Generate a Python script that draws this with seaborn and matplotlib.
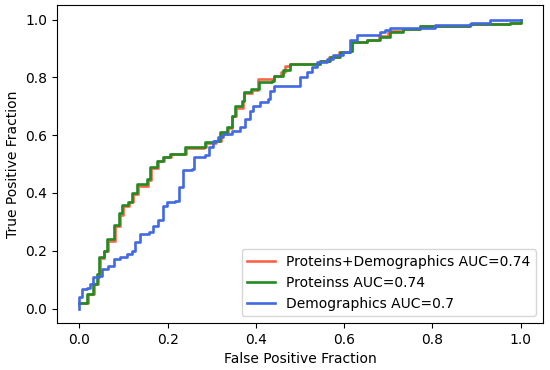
import matplotlib
matplotlib.use("Agg")
import matplotlib.pyplot as plt
import seaborn as sns

# ROC points
both_fpr = [0.0, 0.019, 0.034, 0.042, 0.046, 0.057, 0.065, 0.08, 0.092, 0.099, 0.112, 0.122, 0.132,
            0.155, 0.162, 0.178, 0.192, 0.208, 0.242, 0.283, 0.287, 0.31, 0.321, 0.336, 0.347,
            0.355, 0.37, 0.374, 0.392, 0.404, 0.43, 0.44, 0.456, 0.466, 0.477, 0.538, 0.545, 0.566,
            0.589, 0.613, 0.617, 0.647, 0.651, 0.68, 0.70, 0.733, 0.772, 0.885, 0.975, 1.0]
both_tpr = [0.02, 0.05, 0.085, 0.12, 0.175, 0.20, 0.235, 0.285, 0.325, 0.355, 0.37, 0.395, 0.425,
            0.445, 0.485, 0.51, 0.524, 0.536, 0.556, 0.558, 0.574, 0.58, 0.605, 0.625, 0.665,
            0.695, 0.718, 0.747, 0.758, 0.795, 0.795, 0.806, 0.82, 0.84, 0.847, 0.847, 0.858, 0.872,
            0.888, 0.893, 0.922, 0.922, 0.93, 0.945, 0.96, 0.969, 0.979, 0.985, 0.99, 1.0]

prot_fpr = [0.0, 0.017, 0.032, 0.04, 0.044, 0.055, 0.063, 0.078, 0.09, 0.097, 0.11, 0.12, 0.13,
            0.153, 0.16, 0.176, 0.19, 0.206, 0.24, 0.281, 0.285, 0.308, 0.319, 0.334, 0.345,
            0.353, 0.368, 0.372, 0.39, 0.406, 0.436, 0.44, 0.462, 0.477, 0.538, 0.545, 0.568,
            0.59, 0.613, 0.617, 0.647, 0.651, 0.681, 0.704, 0.734, 0.772, 0.885, 0.975, 1.0]
prot_tpr = [0.02, 0.05, 0.085, 0.12, 0.18, 0.20, 0.24, 0.29, 0.33, 0.36, 0.37, 0.40, 0.43,
            0.45, 0.49, 0.51, 0.524, 0.536, 0.558, 0.558, 0.576, 0.58, 0.61, 0.628, 0.668,
            0.70, 0.72, 0.749, 0.76, 0.784, 0.789, 0.806, 0.824, 0.847, 0.847, 0.858, 0.87,
            0.888, 0.893, 0.922, 0.922, 0.93, 0.94, 0.957, 0.969, 0.979, 0.985, 0.99, 1.0]

demo_fpr = [0.0, 0.0, 0.006, 0.017, 0.025, 0.032, 0.044, 0.051, 0.066, 0.078, 0.093, 0.108, 0.119,
            0.127, 0.138, 0.157, 0.168, 0.179, 0.19, 0.198, 0.217, 0.225, 0.236, 0.236, 0.255,
            0.259, 0.285, 0.293, 0.304, 0.315, 0.326, 0.345, 0.364, 0.376, 0.387, 0.394, 0.41,
            0.428, 0.432, 0.44, 0.485, 0.5, 0.515, 0.526, 0.538, 0.56, 0.575, 0.598, 0.613, 0.628,
            0.673, 0.681, 0.692, 0.704, 0.786, 0.805, 0.885, 0.888, 0.93, 0.93, 1.0]
demo_tpr = [0.0, 0.04, 0.068, 0.072, 0.085, 0.108, 0.114, 0.137, 0.149, 0.172, 0.18, 0.19, 0.20,
            0.23, 0.258, 0.265, 0.287, 0.305, 0.356, 0.368, 0.374, 0.42, 0.438, 0.478, 0.483,
            0.524, 0.53, 0.558, 0.58, 0.593, 0.604, 0.616, 0.628, 0.656, 0.685, 0.70, 0.714,
            0.726, 0.754, 0.772, 0.772, 0.80, 0.818, 0.836, 0.853, 0.865, 0.876, 0.888, 0.93, 0.946,
            0.946, 0.957, 0.965, 0.972, 0.972, 0.983, 0.983, 0.99, 0.994, 1.0, 1.0]

labels = ["Proteins+Demographics AUC=0.74", "Proteinss AUC=0.74", "Demographics AUC=0.7"]
colors = ["tomato", "forestgreen", "royalblue"]

fig, ax = plt.subplots(figsize=(5.5, 3.7), dpi=100)

curves = [(both_fpr, both_tpr), (prot_fpr, prot_tpr), (demo_fpr, demo_tpr)]
for (fx, ty), lab, col in zip(curves, labels, colors):
    sns.lineplot(x=fx, y=ty, ax=ax, sort=False, estimator=None, color=col,
                 label=lab, drawstyle="steps-post", linewidth=1.9)

ax.set_xlabel("False Positive Fraction")
ax.set_ylabel("True Positive Fraction")
ax.legend(loc="lower right")

fig.subplots_adjust(left=0.104, right=0.987, top=0.986, bottom=0.127)
fig.savefig("out.png", dpi=100)
